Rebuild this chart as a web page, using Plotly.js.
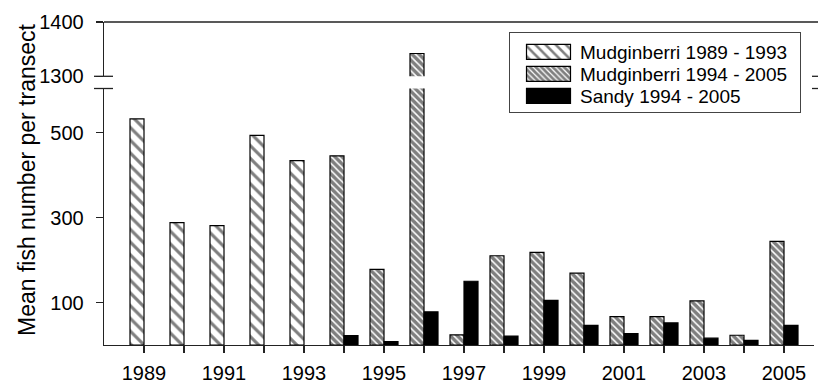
<!DOCTYPE html>
<html>
<head>
<meta charset="utf-8">
<script src="https://cdn.plot.ly/plotly-3.0.1.min.js"></script>
<style>html,body{margin:0;padding:0;background:#fff;}#chart{width:818px;height:385px;}</style>
</head>
<body>
<div id="chart"></div>
<script>
// ---- data ----
const years8993 = [1989, 1990, 1991, 1992, 1993];
const mud8993 = [532, 288, 281, 493, 434];
const years9405 = [1994, 1995, 1996, 1997, 1998, 1999, 2000, 2001, 2002, 2003, 2004, 2005];
const mud9405 = [445, 178, 1342, 24, 210, 218, 169, 67, 67, 104, 23, 244];
const sandy9405 = [22, 8, 78, 150, 21, 105, 46, 27, 52, 16, 11, 46];
const xTickVals = [1989, 1990, 1991, 1992, 1993, 1994, 1995, 1996, 1997, 1998, 1999, 2000, 2001, 2002, 2003, 2004, 2005];
const xTickText = ['1989', '', '1991', '', '1993', '', '1995', '', '1997', '', '1999', '', '2001', '', '2003', '', '2005'];
const yLowTicks = [100, 300, 500];
const yHighTicks = [1300, 1400];
const seriesNames = ['Mudginberri 1989 - 1993', 'Mudginberri 1994 - 2005', 'Sandy 1994 - 2005'];
const yTitle = 'Mean fish number per transect';

// ---- styling ----
const FONT = '"Liberation Sans", Arial, sans-serif';
const AX = '#222';
const W = 818, H = 385;
const mL = 104, mR = 4, mT = 22, mB = 40;
const plotW = W - mL - mR, plotH = H - mT - mB;
const lowTopPx = 88.5, highBotPx = 76.3;
const lowTopFrac = (H - mB - lowTopPx) / plotH;
const highBotFrac = (H - mB - highBotPx) / plotH;
const barW = 0.35;
const outline = {color: '#000', width: 1.2};

const sparse = {shape: '\\', size: 9, solidity: 0.35, fgcolor: '#000', bgcolor: '#fff', fillmode: 'overlay'};
const dense = {shape: '\\', size: 5, solidity: 0.7, fgcolor: '#000', bgcolor: '#fff', fillmode: 'overlay'};

const traces = [
  {type: 'bar', name: seriesNames[0], x: years8993, y: mud8993, xaxis: 'x', yaxis: 'y',
   offset: -barW, width: barW, marker: {color: '#fff', pattern: sparse, line: outline}},
  {type: 'bar', name: seriesNames[1], x: years9405, y: mud9405, xaxis: 'x', yaxis: 'y',
   offset: -barW, width: barW, marker: {color: '#fff', pattern: dense, line: outline}},
  {type: 'bar', name: seriesNames[2], x: years9405, y: sandy9405, xaxis: 'x', yaxis: 'y',
   offset: 0, width: barW, marker: {color: '#000', line: outline}},
  {type: 'bar', name: seriesNames[1], x: years9405, y: mud9405, xaxis: 'x', yaxis: 'y2', showlegend: false,
   offset: -barW, width: barW, marker: {color: '#fff', pattern: dense, line: outline}}
];

function px2fx(px) { return (px - mL) / plotW; }

const breakMarks = [];
[highBotFrac, lowTopFrac].forEach(function (fy) {
  breakMarks.push({type: 'line', xref: 'paper', yref: 'paper', x0: px2fx(94), x1: px2fx(113), y0: fy, y1: fy, line: {color: AX, width: 1.3}});
  breakMarks.push({type: 'line', xref: 'paper', yref: 'paper', x0: px2fx(812), x1: px2fx(820), y0: fy, y1: fy, line: {color: AX, width: 1.3}});
});
breakMarks.push({type: 'line', xref: 'paper', yref: 'paper', x0: 0, x1: 1.01, y0: 1, y1: 1, line: {color: AX, width: 1.3}});

const tickFont = {family: FONT, size: 20, color: '#000'};
const layout = {
  width: W, height: H,
  margin: {l: mL, r: mR, t: mT, b: mB, pad: 0},
  paper_bgcolor: '#fff', plot_bgcolor: '#fff',
  font: {family: FONT, size: 19, color: '#000'},
  barmode: 'overlay',
  showlegend: true,
  legend: {x: px2fx(509), y: 1 - (32 - mT) / plotH, xanchor: 'left', yanchor: 'top',
           bordercolor: '#444', borderwidth: 1, bgcolor: '#fff', itemwidth: 55,
           font: {family: FONT, size: 19, color: '#000'}, traceorder: 'normal'},
  xaxis: {range: [1988, 2005.75], tickvals: xTickVals, ticktext: xTickText, ticks: 'outside', ticklen: 7,
          tickwidth: 1.3, tickcolor: AX, showline: true, linecolor: AX, linewidth: 1.3, showgrid: false,
          zeroline: false, anchor: 'y', tickfont: tickFont, ticklabelstandoff: 3},
  yaxis: {domain: [0, lowTopFrac], range: [0, (H - mB - lowTopPx) / 0.425], tickvals: yLowTicks,
          ticks: 'outside', ticklen: 7, tickwidth: 1.3, tickcolor: AX, showline: true, linecolor: AX, linewidth: 1.3,
          showgrid: false, zeroline: false, anchor: 'x', tickfont: tickFont, ticklabelstandoff: 8},
  yaxis2: {domain: [highBotFrac, 1], range: [1300, 1400], tickvals: yHighTicks,
          ticks: 'outside', ticklen: 7, tickwidth: 1.3, tickcolor: AX, showline: true, linecolor: AX, linewidth: 1.3,
          showgrid: false, zeroline: false, anchor: 'x', tickfont: tickFont, ticklabelstandoff: 8},
  shapes: breakMarks,
  annotations: [{text: yTitle, xref: 'paper', yref: 'paper', x: 0, xshift: -(mL - 27), y: 1 - (180 - mT) / plotH,
                 xanchor: 'center', yanchor: 'middle', textangle: -90, showarrow: false,
                 font: {family: FONT, size: 23, color: '#000'}}]
};

Plotly.newPlot('chart', traces, layout, {staticPlot: true, displayModeBar: false}).then(function () {
  const leg = document.querySelector('.legend');
  if (!leg) return;
  // rectangular keys like the reference
  leg.querySelectorAll('.legendpoints path').forEach(function (p) {
    p.setAttribute('d', 'M28,7.5H-16V-7.5H28Z');
  });
  // nudge legend texts right a little
  leg.querySelectorAll('text.legendtext').forEach(function (t) {
    const x = parseFloat(t.getAttribute('x') || '0');
    t.setAttribute('x', x + 5);
    t.querySelectorAll('tspan[x]').forEach(function (s) {
      s.setAttribute('x', parseFloat(s.getAttribute('x')) + 5);
    });
  });
  // tighter rows, as in the reference legend
  const items = leg.querySelectorAll('g.traces');
  let y0 = null;
  items.forEach(function (g, i) {
    const m = /translate\(\s*([-\d.]+)[ ,]+([-\d.]+)\s*\)/.exec(g.getAttribute('transform') || '');
    if (!m) return;
    if (y0 === null) y0 = +m[2];
    g.setAttribute('transform', 'translate(' + m[1] + ',' + (y0 + i * 22) + ')');
  });
  const bg = leg.querySelector('rect.bg');
  if (bg) { bg.setAttribute('height', 80); bg.setAttribute('width', 291); }
});
</script>
</body>
</html>
